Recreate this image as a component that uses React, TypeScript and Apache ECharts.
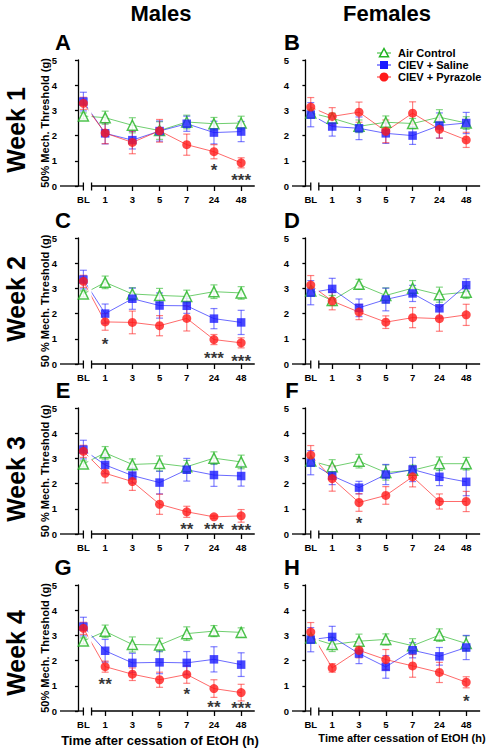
import React, { useEffect, useRef } from "react";
import * as echarts from "echarts";

// ---------- data ----------
const timeLabels = ["BL", "1", "3", "5", "7", "24", "48"];
const groupNames = ["Air Control", "CIEV + Saline", "CIEV + Pyrazole"];
const colTitles = ["Males", "Females"];
const rowTitles = ["Week 1", "Week 2", "Week 3", "Week 4"];
const panelLetters = ["A", "B", "C", "D", "E", "F", "G", "H"];
const yAxisTitles = [
  "50% Mech. Threshold (g)",
  "50 % Mech. Threshold (g)",
  "50 % Mech. Threshold (g)",
  "50% Mech. Threshold (g)",
];
const xAxisTitle = "Time after cessation of EtOH (h)";

// Panel A (Males, week 1)
const aAir = [2.78, 2.71, 2.41, 2.2, 2.54, 2.47, 2.5];
const aAirSem = [0.12, 0.26, 0.3, 0.35, 0.27, 0.25, 0.27];
const aSal = [3.35, 2.09, 1.82, 2.18, 2.47, 2.12, 2.16];
const aSalSem = [0.37, 0.42, 0.35, 0.4, 0.3, 0.45, 0.4];
const aPyr = [3.28, 2.1, 1.73, 2.19, 1.64, 1.36, 0.92];
const aPyrSem = [0.24, 0.42, 0.45, 0.45, 0.42, 0.28, 0.2];
const aSig: [number, number, string][] = [[5, 0.75, "*"], [6, 0.35, "***"]];

// Panel B (Females, week 1)
const bAir = [2.9, 2.69, 2.37, 2.53, 2.48, 2.73, 2.5];
const bAirSem = [0.12, 0.2, 0.25, 0.25, 0.2, 0.3, 0.25];
const bSal = [2.83, 2.36, 2.29, 2.09, 2.0, 2.4, 2.5];
const bSalSem = [0.48, 0.38, 0.45, 0.4, 0.35, 0.5, 0.42];
const bPyr = [3.13, 2.76, 2.93, 2.17, 2.89, 2.25, 1.83];
const bPyrSem = [0.38, 0.35, 0.4, 0.45, 0.45, 0.35, 0.3];
const bSig: [number, number, string][] = [];

// Panel C (Males, week 2)
const cAir = [2.78, 3.24, 2.78, 2.72, 2.68, 2.87, 2.82];
const cAirSem = [0.12, 0.25, 0.25, 0.28, 0.25, 0.27, 0.25];
const cSal = [3.35, 2.0, 2.59, 2.32, 2.31, 1.8, 1.65];
const cSalSem = [0.37, 0.38, 0.42, 0.5, 0.3, 0.4, 0.48];
const cPyr = [3.28, 1.67, 1.65, 1.52, 1.81, 0.97, 0.84];
const cPyrSem = [0.24, 0.33, 0.45, 0.4, 0.5, 0.2, 0.2];
const cSig: [number, number, string][] = [[1, 0.91, "*"], [5, 0.32, "***"], [6, 0.2, "***"]];

// Panel D (Females, week 2)
const dAir = [2.9, 2.52, 3.16, 2.72, 3.01, 2.75, 2.85];
const dAirSem = [0.12, 0.2, 0.2, 0.3, 0.3, 0.3, 0.25];
const dSal = [2.83, 2.98, 2.23, 2.56, 2.8, 2.21, 3.13];
const dSalSem = [0.48, 0.42, 0.35, 0.45, 0.32, 0.35, 0.25];
const dPyr = [3.13, 2.5, 2.06, 1.66, 1.84, 1.8, 1.95];
const dPyrSem = [0.38, 0.35, 0.3, 0.25, 0.4, 0.5, 0.42];
const dSig: [number, number, string][] = [];

// Panel E (Males, week 3)
const eAir = [2.78, 3.22, 2.76, 2.8, 2.67, 3.01, 2.86];
const eAirSem = [0.12, 0.25, 0.22, 0.3, 0.25, 0.25, 0.27];
const eSal = [3.35, 2.74, 2.32, 2.04, 2.55, 2.34, 2.3];
const eSalSem = [0.37, 0.35, 0.3, 0.45, 0.45, 0.45, 0.4];
const ePyr = [3.28, 2.41, 2.08, 1.18, 0.88, 0.68, 0.72];
const ePyrSem = [0.24, 0.38, 0.35, 0.4, 0.22, 0.06, 0.25];
const eSig: [number, number, string][] = [[4, 0.31, "**"], [5, 0.28, "***"], [6, 0.24, "***"]];

// Panel F (Females, week 3)
const fAir = [2.9, 2.67, 2.89, 2.44, 2.53, 2.79, 2.79];
const fAirSem = [0.12, 0.28, 0.27, 0.3, 0.2, 0.27, 0.25];
const fSal = [2.83, 2.31, 1.84, 2.36, 2.56, 2.27, 2.07];
const fSalSem = [0.48, 0.35, 0.25, 0.4, 0.48, 0.35, 0.55];
const fPyr = [3.13, 2.2, 1.25, 1.53, 2.27, 1.29, 1.29];
const fPyrSem = [0.38, 0.5, 0.35, 0.35, 0.4, 0.3, 0.4];
const fSig: [number, number, string][] = [[2, 0.52, "*"]];

// Panel G (Males, week 4)
const gAir = [2.78, 3.16, 2.64, 2.62, 3.07, 3.17, 3.12];
const gAirSem = [0.12, 0.25, 0.3, 0.27, 0.27, 0.22, 0.18];
const gSal = [3.35, 2.39, 1.91, 1.93, 1.91, 2.05, 1.84];
const gSalSem = [0.37, 0.45, 0.38, 0.45, 0.45, 0.5, 0.47];
const gPyr = [3.28, 1.76, 1.46, 1.24, 1.45, 0.89, 0.73];
const gPyrSem = [0.24, 0.22, 0.25, 0.3, 0.35, 0.35, 0.33];
const gSig: [number, number, string][] = [[1, 1.18, "**"], [4, 0.78, "*"], [5, 0.27, "**"], [6, 0.2, "***"]];

// Panel H (Females, week 4)
const hAir = [2.9, 2.64, 2.77, 2.84, 2.59, 3.01, 2.68];
const hAirSem = [0.12, 0.28, 0.28, 0.22, 0.28, 0.25, 0.3];
const hSal = [2.83, 2.94, 2.28, 1.75, 2.41, 2.17, 2.52];
const hSalSem = [0.48, 0.42, 0.4, 0.45, 0.3, 0.35, 0.48];
const hPyr = [3.13, 1.71, 2.41, 2.04, 1.79, 1.53, 1.14];
const hPyrSem = [0.38, 0.17, 0.3, 0.4, 0.45, 0.4, 0.22];
const hSig: [number, number, string][] = [[6, 0.48, "*"]];

// ---------- layout / style ----------
const FONT = "'Liberation Sans', Arial, Helvetica, sans-serif";
const COLORS = ["#22b422", "#1a1aff", "#ff1a1a"];
const BL_POS = 0.2;
const BREAK_POS = 0.5;
const xPositions = timeLabels.map((_, i) => (i === 0 ? BL_POS : i));
const colLayout = [
  { left: 60, min: -0.66, max: 6.5, unit: 27.2 },
  { left: 292, min: -0.5, max: 6.52, unit: 26.8 },
];
const rowTops = [60, 238, 408, 585];
const PLOT_H = 126;

const panels = [
  { col: 0, row: 0, means: [aAir, aSal, aPyr], sems: [aAirSem, aSalSem, aPyrSem], sig: aSig },
  { col: 1, row: 0, means: [bAir, bSal, bPyr], sems: [bAirSem, bSalSem, bPyrSem], sig: bSig },
  { col: 0, row: 1, means: [cAir, cSal, cPyr], sems: [cAirSem, cSalSem, cPyrSem], sig: cSig },
  { col: 1, row: 1, means: [dAir, dSal, dPyr], sems: [dAirSem, dSalSem, dPyrSem], sig: dSig },
  { col: 0, row: 2, means: [eAir, eSal, ePyr], sems: [eAirSem, eSalSem, ePyrSem], sig: eSig },
  { col: 1, row: 2, means: [fAir, fSal, fPyr], sems: [fAirSem, fSalSem, fPyrSem], sig: fSig },
  { col: 0, row: 3, means: [gAir, gSal, gPyr], sems: [gAirSem, gSalSem, gPyrSem], sig: gSig },
  { col: 1, row: 3, means: [hAir, hSal, hPyr], sems: [hAirSem, hSalSem, hPyrSem], sig: hSig },
];

function txt(x: number, y: number, text: string, size: number, opts: any = {}) {
  return {
    type: "text",
    x,
    y,
    rotation: opts.rotation || 0,
    silent: true,
    style: {
      text,
      fill: "#000",
      fontSize: size,
      fontWeight: "bold",
      fontFamily: FONT,
      align: opts.align || "center",
      verticalAlign: "middle",
    },
  };
}

function buildOption() {
  const grid: any[] = [];
  const xAxis: any[] = [];
  const yAxis: any[] = [];
  const series: any[] = [];
  const graphic: any[] = [];

  panels.forEach((p, idx) => {
    const L = colLayout[p.col];
    const top = rowTops[p.row];
    grid.push({ left: L.left, top, width: (L.max - L.min) * L.unit, height: PLOT_H });
    xAxis.push({
      type: "value",
      gridIndex: idx,
      min: L.min,
      max: L.max,
      axisLine: { show: false },
      splitLine: { show: false },
      axisTick: {
        show: true,
        customValues: xPositions.slice(1),
        length: 5,
        lineStyle: { color: "#000", width: 1.3 },
      },
      axisLabel: {
        customValues: xPositions,
        formatter: (v: number) => (v < BREAK_POS ? timeLabels[0] : timeLabels[Math.round(v)]),
        color: "#000",
        fontSize: 9.5,
        fontWeight: "bold",
        fontFamily: FONT,
        margin: 8,
      },
    });
    yAxis.push({
      type: "value",
      gridIndex: idx,
      min: 0,
      max: 5,
      interval: 1,
      axisLine: { show: true, lineStyle: { color: "#000", width: 1.3 } },
      axisTick: { show: true, length: 3, lineStyle: { color: "#000", width: 1.3 } },
      axisLabel: { color: "#000", fontSize: 9.5, fontWeight: "bold", fontFamily: FONT, margin: 3 },
      splitLine: { show: false },
    });

    // connecting lines
    p.means.forEach((m, g) => {
      series.push({
        type: "line",
        name: groupNames[g],
        xAxisIndex: idx,
        yAxisIndex: idx,
        data: xPositions.map((x, i) => [x, m[i]]),
        symbol: "none",
        lineStyle: { color: COLORS[g], width: 1, opacity: 0.65 },
        silent: true,
        z: 2,
      });
    });

    // white cover for the axis break gap
    series.push({
      type: "custom",
      xAxisIndex: idx,
      yAxisIndex: idx,
      data: [[BL_POS, 0]],
      silent: true,
      z: 3,
      renderItem: (_params: any, api: any) => {
        const a = api.coord([BL_POS + 0.18, 5]);
        const b = api.coord([BREAK_POS, 0]);
        return {
          type: "rect",
          shape: { x: a[0], y: a[1] - 4, width: b[0] - a[0], height: b[1] - a[1] + 3 },
          style: { fill: "#fff" },
        };
      },
    });

    // error bars
    p.means.forEach((m, g) => {
      const color = COLORS[g];
      series.push({
        type: "custom",
        xAxisIndex: idx,
        yAxisIndex: idx,
        data: xPositions.map((x, i) => [x, m[i], p.sems[g][i]]),
        encode: { x: 0, y: 1 },
        silent: true,
        z: 4,
        renderItem: (_params: any, api: any) => {
          const x = api.value(0);
          const mv = api.value(1);
          const e = api.value(2);
          const t = api.coord([x, mv + e]);
          const b = api.coord([x, mv - e]);
          const hw = 3.5;
          const st = { stroke: color, lineWidth: 1.2, opacity: 0.55 };
          return {
            type: "group",
            children: [
              { type: "line", shape: { x1: t[0], y1: t[1], x2: b[0], y2: b[1] }, style: st },
              { type: "line", shape: { x1: t[0] - hw, y1: t[1], x2: t[0] + hw, y2: t[1] }, style: st },
              { type: "line", shape: { x1: b[0] - hw, y1: b[1], x2: b[0] + hw, y2: b[1] }, style: st },
            ],
          };
        },
      });
    });

    // markers
    const symbols = ["triangle", "rect", "circle"];
    const sizes = [10, 8.5, 9];
    p.means.forEach((m, g) => {
      series.push({
        type: "scatter",
        xAxisIndex: idx,
        yAxisIndex: idx,
        data: xPositions.map((x, i) => [x, m[i]]),
        symbol: symbols[g],
        symbolSize: sizes[g],
        itemStyle:
          g === 0
            ? { color: "#fff", borderColor: COLORS[0], borderWidth: 1.5 }
            : { color: COLORS[g] },
        silent: true,
        z: 5,
      });
    });

    // significance stars
    if (p.sig.length) {
      series.push({
        type: "scatter",
        xAxisIndex: idx,
        yAxisIndex: idx,
        data: p.sig.map(([i, y, t]) => ({ value: [xPositions[i], y], name: t })),
        symbolSize: 1,
        itemStyle: { color: "rgba(0,0,0,0)" },
        silent: true,
        z: 6,
        label: {
          show: true,
          position: "inside",
          formatter: "{b}",
          color: "#000",
          fontSize: 17,
          fontWeight: "bold",
          fontFamily: FONT,
          offset: [0, 3],
        },
      });
    }

    // broken x axis
    series.push({
      type: "custom",
      xAxisIndex: idx,
      yAxisIndex: idx,
      data: [[BL_POS, 0]],
      silent: true,
      z: 8,
      renderItem: (_params: any, api: any) => {
        const a = api.coord([L.min, 0]);
        const b = api.coord([BL_POS, 0]);
        const c = api.coord([BREAK_POS, 0]);
        const d = api.coord([L.max, 0]);
        const y0 = a[1];
        const st = { stroke: "#000", lineWidth: 1.3 };
        return {
          type: "group",
          children: [
            { type: "line", shape: { x1: a[0], y1: y0, x2: b[0], y2: y0 }, style: st },
            { type: "line", shape: { x1: b[0], y1: y0 - 3.5, x2: b[0], y2: y0 + 4.5 }, style: st },
            { type: "line", shape: { x1: c[0], y1: y0, x2: d[0], y2: y0 }, style: st },
            { type: "line", shape: { x1: c[0], y1: y0 - 3.5, x2: c[0], y2: y0 + 4.5 }, style: st },
          ],
        };
      },
    });

    // panel letter
    const letterX = p.col === 0 ? 63 : 292;
    graphic.push(txt(letterX, top - 18, panelLetters[idx], 22));
    // y-axis title (left column only)
    if (p.col === 0) {
      graphic.push(txt(45, top + PLOT_H / 2, yAxisTitles[p.row], 11, { rotation: Math.PI / 2 }));
    }
  });

  // column and row titles
  graphic.push(txt(161, 13, colTitles[0], 22));
  graphic.push(txt(387, 13, colTitles[1], 22));
  const rowCenters = [130, 299, 479, 653];
  rowTitles.forEach((r, i) => graphic.push(txt(16, rowCenters[i], r, 25, { rotation: Math.PI / 2 })));

  // x-axis titles
  graphic.push(txt(160, 740, xAxisTitle, 13));
  graphic.push(txt(402, 738, xAxisTitle, 11));

  // legend
  const legY = [53, 65, 77];
  groupNames.forEach((name, g) => {
    const y = legY[g];
    const cx = 384;
    graphic.push({
      type: "line",
      silent: true,
      shape: { x1: 377, y1: y, x2: 391, y2: y },
      style: { stroke: COLORS[g], lineWidth: 1.2, opacity: 0.8 },
    });
    if (g === 0) {
      graphic.push({
        type: "polygon",
        silent: true,
        shape: { points: [[cx, y - 4.5], [cx + 4.5, y + 3.8], [cx - 4.5, y + 3.8]] },
        style: { fill: "#fff", stroke: COLORS[0], lineWidth: 1.5 },
      });
    } else if (g === 1) {
      graphic.push({
        type: "rect",
        silent: true,
        shape: { x: cx - 4, y: y - 4, width: 8, height: 8 },
        style: { fill: COLORS[1] },
      });
    } else {
      graphic.push({
        type: "circle",
        silent: true,
        shape: { cx, cy: y, r: 4.5 },
        style: { fill: COLORS[2] },
      });
    }
    graphic.push(txt(398, y, name, 11, { align: "left" }));
  });

  return {
    animation: false,
    backgroundColor: "#fff",
    grid,
    xAxis,
    yAxis,
    series,
    graphic,
  };
}

export default function App() {
  const ref = useRef<HTMLDivElement>(null);
  useEffect(() => {
    if (!ref.current) return;
    const chart = echarts.init(ref.current, null, { renderer: "svg" });
    chart.setOption(buildOption() as any);
    return () => chart.dispose();
  }, []);
  return (
    <div
      ref={ref}
      style={{ position: "absolute", left: 0, top: 0, width: 492, height: 750, background: "#fff" }}
    />
  );
}
